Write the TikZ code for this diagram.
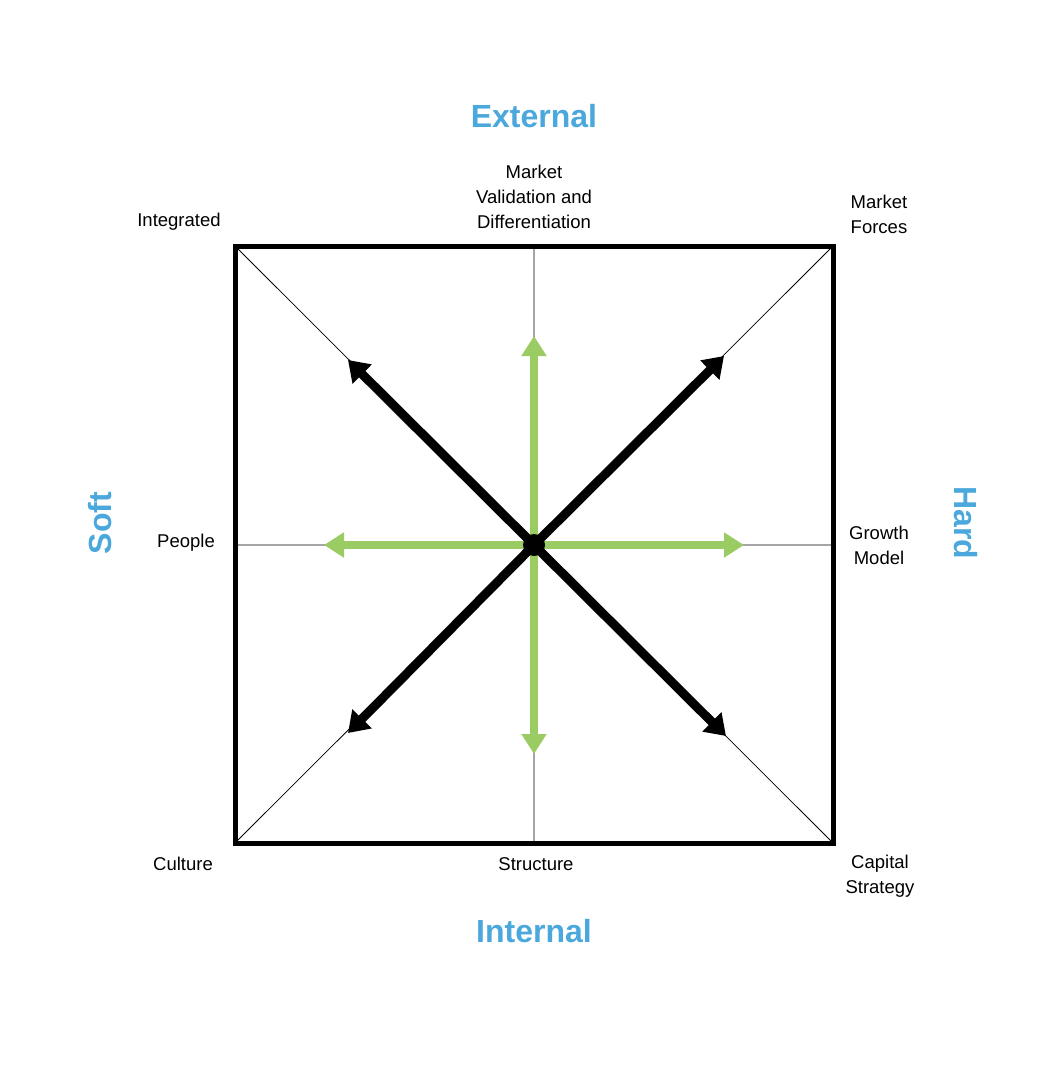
\documentclass[tikz,border=0pt]{standalone}
\usepackage{fontspec}
\setmainfont{Liberation Sans}
\usetikzlibrary{arrows.meta}
\definecolor{hdr}{HTML}{4AA8DC}
\definecolor{grn}{HTML}{9BCB63}
\begin{document}
\begin{tikzpicture}[x=1pt,y=-1pt,
  lbl/.style={font=\fontsize{18.5}{25}\selectfont,align=center},
  hd/.style={font=\fontsize{32}{36}\selectfont\bfseries,text=hdr},
  thin/.style={line width=0.8pt},
  blk/.style={line width=9pt,-{Triangle[length=20pt,width=26pt]}},
  gr/.style={line width=8pt,color=grn,-{Triangle[length=20pt,width=24pt]}}]
\useasboundingbox (0,0) rectangle (1044,1080);
\coordinate (c) at (534,545);
\coordinate (tl) at (235,246); \coordinate (tr) at (833,246);
\coordinate (bl) at (235,843); \coordinate (br) at (833,843);
\coordinate (t) at (534,246); \coordinate (b) at (534,843);
\coordinate (l) at (235,545); \coordinate (r) at (833,545);
\draw[thin] (tl)--(br) (tr)--(bl) (t)--(b) (l)--(r);
\draw[line width=5pt] (tl) rectangle (br);
\coordinate (a1) at (348,360); \coordinate (a2) at (724,356);
\coordinate (a3) at (348,733); \coordinate (a4) at (726,736);
\coordinate (g1) at (534,336); \coordinate (g2) at (534,754);
\coordinate (g3) at (324,545); \coordinate (g4) at (744,545);
\foreach \p in {a1,a2,a3,a4} \draw[blk] (c) -- (\p);
\foreach \p in {g1,g2,g3,g4} \draw[gr] (c) -- (\p);
\fill (c) circle (11);
\node[hd] (ext) at (534,116) {External};
\node[hd] (int) at (534,931) {Internal};
\node[hd,rotate=90] (soft) at (100,523) {Soft};
\node[hd,rotate=-90] (hard) at (966,523) {Hard};
\node[lbl] (n1) at (534,197) {Market\\Validation and\\Differentiation};
\node[lbl] (n2) at (179,222) {Integrated};
\node[lbl] (n3) at (879,214) {Market\\Forces};
\node[lbl] (n4) at (186,543) {People};
\node[lbl] (n5) at (879,545) {Growth\\Model};
\node[lbl] (n6) at (183,864) {Culture};
\node[lbl] (n7) at (536,864) {Structure};
\node[lbl] (n8) at (880,876) {Capital\\Strategy};
\end{tikzpicture}
\end{document}
